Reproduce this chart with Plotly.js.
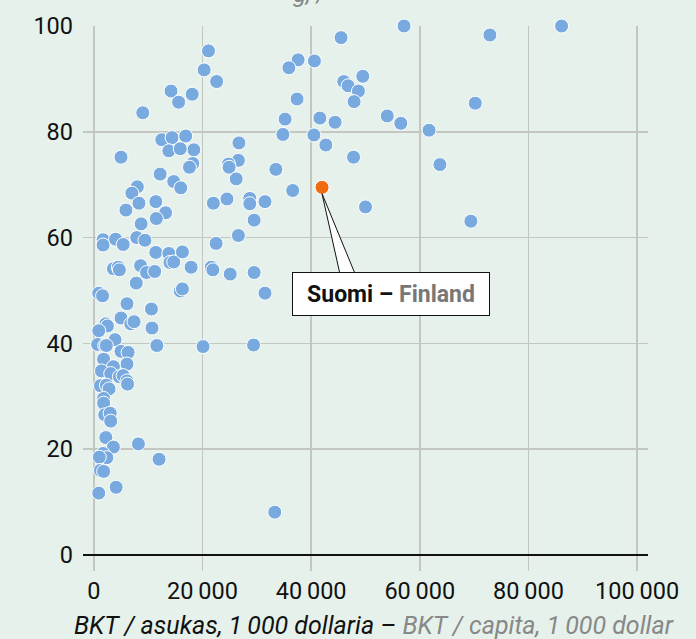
<!DOCTYPE html>
<html>
<head>
<meta charset="utf-8">
<script src="https://cdn.plot.ly/plotly-3.0.1.min.js"></script>
<style>html,body{margin:0;padding:0;background:#e5f1ea;}#chart{width:696px;height:639px;}</style>
</head>
<body>
<div id="chart"></div>
<script>
// GDP per capita (thousand dollars) for each country
const gdpK = [57.1,45.5,21.1,20.3,22.6,18.1,37.6,35.9,40.6,49.5,46.0,46.8,48.7,47.9,37.4,35.2,41.6,44.4,54.0,56.5,
  34.8,40.5,42.7,47.8,26.7,18.4,26.6,24.8,24.9,26.2,33.5,36.6,50.0,22.0,24.5,28.7,28.7,31.5,29.5,26.6,
  22.5,72.9,86.1,70.2,61.7,63.7,69.4,14.2,15.6,9.0,12.5,14.4,16.9,13.8,15.9,5.0,18.2,17.6,12.2,14.7,
  16.0,8.0,7.0,8.3,5.9,11.4,13.2,11.5,8.7,1.7,1.7,4.0,5.4,7.9,9.4,11.4,13.8,14.0,14.7,16.3,
  17.9,21.6,21.9,25.1,29.5,3.6,4.5,4.7,8.6,9.7,11.2,7.8,15.9,16.3,0.9,1.6,6.1,10.6,5.0,6.8,
  7.4,2.2,2.5,0.9,10.7,3.9,0.7,2.0,2.3,11.6,20.1,29.4,5.0,6.3,6.1,1.8,3.6,1.4,3.1,4.7,
  5.4,6.1,6.2,1.2,2.3,2.8,1.8,1.8,2.0,3.0,3.1,2.2,3.6,8.2,1.7,2.4,1.0,12.0,1.2,1.8,
  4.1,0.9,33.3,31.5];
// Index value (%) for each country
const indexVal = [100,97.8,95.3,91.7,89.5,87.1,93.6,92.1,93.4,90.5,89.5,88.7,87.7,85.7,86.2,82.4,82.6,81.8,83.0,81.6,
  79.5,79.4,77.5,75.2,77.9,76.6,74.6,73.9,73.3,71.1,72.9,68.9,65.8,66.5,67.3,67.4,66.4,66.8,63.3,60.4,
  58.9,98.3,100,85.4,80.3,73.8,63.1,87.7,85.6,83.6,78.5,78.9,79.2,76.4,76.8,75.2,74.0,73.3,72.0,70.6,
  69.4,69.6,68.4,66.5,65.2,66.8,64.7,63.6,62.6,59.6,58.6,59.7,58.7,60.0,59.5,57.2,57.0,55.3,55.4,57.3,
  54.4,54.4,53.9,53.1,53.4,54.1,54.4,53.9,54.7,53.4,53.6,51.4,49.9,50.3,49.5,49.0,47.5,46.5,44.8,43.7,
  44.1,43.7,43.3,42.4,42.9,40.7,39.8,39.6,39.6,39.6,39.4,39.7,38.5,38.3,36.1,37.0,35.6,34.8,34.3,33.7,
  33.9,32.9,32.3,32.0,32.1,31.4,29.6,28.7,26.5,26.8,25.3,22.2,20.4,21.0,19.2,18.4,18.5,18.1,16.0,15.8,
  12.8,11.7,8.1,49.5];
const finlandGdpK = [42.0];
const finlandIndex = [69.5];
const finlandLabel = ["Suomi", "Finland"];

const xTickVals = [0, 20000, 40000, 60000, 80000, 100000];
const xTickText = ["0", "20\u2009000", "40\u2009000", "60\u2009000", "80\u2009000", "100\u2009000"];
const yTickVals = [0, 20, 40, 60, 80, 100];
const yTickText = ["0", "20", "40", "60", "80", "100"];
const xTitleFi = "BKT / asukas, 1\u2009000 dollaria";
const xTitleEn = "BKT / capita, 1\u2009000 dollar";

const toDollars = a => a.map(v => v * 1000);
const fx = toDollars(finlandGdpK)[0];
const fy = finlandIndex[0];

const traces = [
  {type:'scatter', mode:'markers', x: toDollars(gdpK), y: indexVal, cliponaxis:false, hoverinfo:'x+y',
   marker:{size:14, color:'#78aae0', line:{color:'#ffffff', width:1}}},
  {type:'scatter', mode:'markers', x: toDollars(finlandGdpK), y: finlandIndex, cliponaxis:false,
   marker:{size:14, color:'#f06a10', line:{color:'#ffffff', width:1}}}
];

const font = 'Roboto, "Liberation Sans", sans-serif';
const layout = {
  width:696, height:639,
  margin:{l:83, r:48, t:26, b:84},
  paper_bgcolor:'#e5f1ea', plot_bgcolor:'#e5f1ea',
  showlegend:false,
  font:{family:font, size:23, color:'#111'},
  xaxis:{range:[-2000,102000], tickvals:xTickVals, ticktext:xTickText, showgrid:true, gridcolor:'#c4c6c2', gridwidth:1.5,
    zeroline:false, ticks:'outside', ticklen:15, tickcolor:'#c4c6c2', tickwidth:1.5, showline:false,
    tickfont:{family:font, size:23.5, color:'#111'}, fixedrange:true},
  yaxis:{range:[0,100], tickvals:yTickVals, ticktext:yTickText, showgrid:true, gridcolor:'#c4c6c2', gridwidth:1.5,
    zeroline:true, zerolinecolor:'#111', zerolinewidth:2, ticks:'', ticklabelstandoff:9, showline:false,
    tickfont:{family:font, size:23.5, color:'#111'}, fixedrange:true},
  shapes:[
    {type:'path', xref:'x', yref:'y', layer:'above',
     path:`M ${fx} ${fy-1.2} L ${fx+3300} ${fy-16.4} L ${fx+6100} ${fy-16.4} Z`,
     fillcolor:'#ffffff', line:{color:'#111', width:1}}
  ],
  annotations:[
    {x:fx, y:fy, xref:'x', yref:'y', showarrow:true, arrowcolor:'rgba(0,0,0,0)', ax:69, ay:107,
     text:`<b>${finlandLabel[0]} – <span style="color:#777">${finlandLabel[1]}</span></b>`,
     font:{family:font, size:23, color:'#111'}, bgcolor:'#ffffff', bordercolor:'#111', borderwidth:1,
     borderpad:6, width:184, height:30},
    {xref:'paper', yref:'paper', x:0.515, y:-0.134, xanchor:'center', yanchor:'middle', showarrow:false,
     text:`${xTitleFi} – <span style="color:#888">${xTitleEn}</span>`,
     font:{family:font, size:25, color:'#111', style:'italic'}},
    {xref:'paper', yref:'paper', x:0.437, y:1.030, xanchor:'right', yanchor:'bottom', showarrow:false,
     text:'g, /', font:{family:font, size:24, color:'#888', style:'italic'}}
  ]
};

Plotly.newPlot('chart', traces, layout, {displayModeBar:false, staticPlot:true});
</script>
</body>
</html>
